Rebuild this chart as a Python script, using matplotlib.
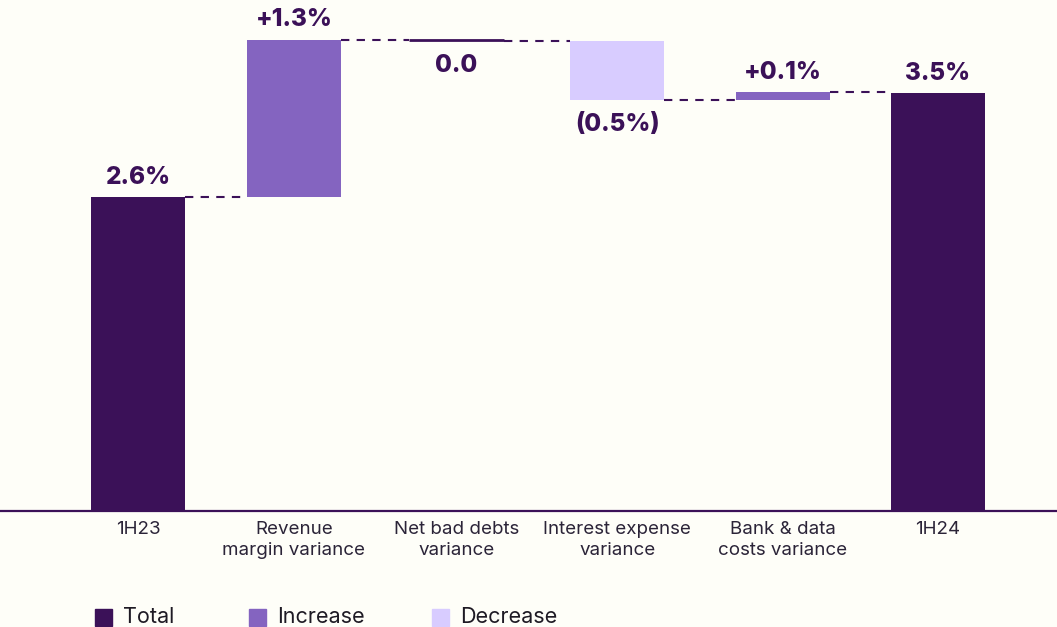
import numpy as np
import matplotlib
matplotlib.use('Agg')
import matplotlib.pyplot as plt
from matplotlib.patches import Rectangle

# data
categories = ['1H23', 'Revenue\nmargin variance', 'Net bad debts\nvariance',
              'Interest expense\nvariance', 'Bank & data\ncosts variance', '1H24']
start_value = 2.61
deltas = [1.31, -0.01, -0.49, 0.065]
end_value = 3.475
value_labels = ['2.6%', '+1.3%', '0.0', '(0.5%)', '+0.1%', '3.5%']

# colours
bg = '#FEFEF8'
c_total = '#3B1158'
c_inc = '#8464C0'
c_dec = '#D8CCFF'
c_text = '#2B2438'

plt.rcParams['font.family'] = ['Inter', 'DejaVu Sans']

fig = plt.figure(figsize=(10.57, 6.27), dpi=100)
fig.patch.set_facecolor(bg)
ax = fig.add_axes([0, 116/627, 1, 511/627])
ax.set_facecolor(bg)

# bar centres (slightly uneven in the original layout)
x = np.array([0, 0.975, 1.99, 2.995, 4.03, 5.0])
width = 0.59

# build bottoms / heights
bottoms, heights, colors = [0], [start_value], [c_total]
level = start_value
levels = [start_value]
for d in deltas:
    if d >= 0:
        bottoms.append(level)
        heights.append(d)
        colors.append(c_inc)
    else:
        bottoms.append(level + d)
        heights.append(-d)
        colors.append(c_dec)
    level += d
    levels.append(level)
bottoms.append(0)
heights.append(end_value)
colors.append(c_total)
levels.append(end_value)

for i in range(len(categories)):
    if abs(heights[i]) < 0.02:
        # near-zero change drawn as a flat line
        ax.hlines(bottoms[i] + heights[i], x[i] - width/2, x[i] + width/2,
                  color=c_total, lw=2, zorder=3)
    else:
        ax.bar(x[i], heights[i], bottom=bottoms[i], width=width,
               color=colors[i], zorder=3)

# dashed connectors
for i in range(len(categories) - 1):
    lv = levels[i]
    ax.plot([x[i] + width/2, x[i+1] - width/2], [lv, lv], color=c_total,
            lw=1.5, ls=(0, (4, 3.5)), zorder=2)

# value labels
signs = [1] + [1 if d > 0.001 else -1 for d in deltas] + [1]
for i in range(len(categories)):
    if signs[i] > 0:
        ax.text(x[i], bottoms[i] + heights[i] + 0.07, value_labels[i], ha='center',
                va='bottom', fontsize=17.5, fontweight='heavy', color=c_total)
    else:
        ax.text(x[i], bottoms[i] - 0.11, value_labels[i], ha='center', va='top',
                fontsize=17.5, fontweight='heavy', color=c_total)

ax.set_xlim(-138/160, (1057-138)/160)
ax.set_ylim(0, 4.25)
ax.set_xticks(x)
ax.set_xticklabels(categories, fontsize=13.5, color=c_text, linespacing=1.3)
ax.tick_params(axis='x', length=0, pad=7)
ax.set_yticks([])
for s in ['top', 'right', 'left']:
    ax.spines[s].set_visible(False)
ax.spines['bottom'].set_color(c_total)
ax.spines['bottom'].set_linewidth(1.6)

# legend
legend_items = [('Total', c_total, 95), ('Increase', c_inc, 249), ('Decrease', c_dec, 432)]
for name, col, px in legend_items:
    fig.patches.append(Rectangle((px/1057, 1/627), 17/1057, 17/627,
                                 transform=fig.transFigure, color=col, figure=fig))
    fig.text((px + 28)/1057, 10/627, name, fontsize=15.5, color='#1E1A24',
             va='center', ha='left')

fig.savefig('out.png', dpi=100, facecolor=bg)
